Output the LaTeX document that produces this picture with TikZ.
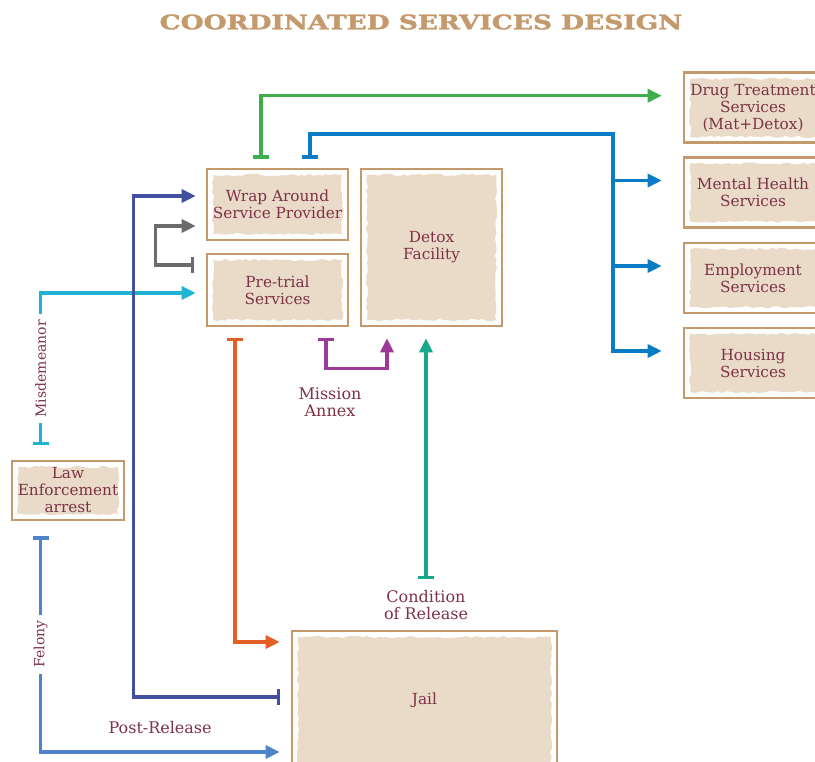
\documentclass[tikz,border=0pt]{standalone}
\usepackage{fontspec}
\setmainfont{DejaVu Serif}
\newfontfamily\titlefont{DejaVu Serif}[BoldFeatures={FakeBold=1.6}]
\usetikzlibrary{arrows.meta,decorations.pathmorphing}

\definecolor{frame}{HTML}{C49A6C}
\definecolor{paper}{HTML}{EADBC9}
\definecolor{ink}{HTML}{7D3246}
\definecolor{lgreen}{HTML}{3DAE49}
\definecolor{lblue}{HTML}{0A7CC6}
\definecolor{lnavy}{HTML}{4350A0}
\definecolor{lgray}{HTML}{6B6B6B}
\definecolor{lcyan}{HTML}{1FB3D4}
\definecolor{lorange}{HTML}{E35F26}
\definecolor{lpurple}{HTML}{9C3A97}
\definecolor{lteal}{HTML}{17A98A}
\definecolor{lsky}{HTML}{4F84CA}

\tikzset{
  svc/.style={draw=frame, line width=2.6pt, align=center, text=ink,
    font=\fontsize{15.3}{17}\selectfont, inner sep=0pt,
    path picture={\fill[paper,decorate,decoration={random steps,segment length=4pt,amplitude=1.2pt}]
      ([shift={(6pt,-6pt)}]path picture bounding box.north west) rectangle
      ([shift={(-6pt,6pt)}]path picture bounding box.south east);}},
  lbl/.style={text=ink, font=\fontsize{16}{17}\selectfont, align=center},
  side/.style={lbl, font=\fontsize{14}{17}\selectfont, rotate=90, fill=white, inner xsep=6pt},
  arr/.style={line width=3.2pt, -{Triangle[length=14pt,width=13pt]}},
  link/.style={arr, {Bar[width=16pt]}-{Triangle[length=14pt,width=13pt]}},
}

\begin{document}
\begin{tikzpicture}[x=1pt,y=-1pt]
    \useasboundingbox[fill=white] (0,0) rectangle (815,762);

    \node[text=frame, font=\titlefont\fontsize{20}{20}\bfseries\selectfont] (title) at (421,22)
        {\scalebox{1.32}[1]{COORDINATED SERVICES DESIGN}};

    % boxes
    \node[svc, minimum width=141pt, minimum height=71pt] (wrap) at (277.5,204.5) {Wrap Around\\Service Provider};
    \node[svc, minimum width=141pt, minimum height=72pt] (pretrial) at (277.5,290) {Pre-trial\\Services};
    \node[svc, minimum width=141pt, minimum height=157pt] (detox) at (431.5,247.5) {Detox\\Facility};
    \node[svc, minimum width=112pt, minimum height=59pt] (law) at (68,490.5) {Law\\Enforcement\\arrest};
    \node[svc, minimum width=265pt, minimum height=139pt] (jail) at (424.5,700.5) {Jail};

    \foreach \n/\y/\t in {drug/107.7/{Drug Treatment\\Services\\(Mat+Detox)},
                          mental/192.5/{Mental Health\\Services},
                          employ/278/{Employment\\Services},
                          housing/363/{Housing\\Services}}{
        \node[svc, minimum width=138pt, minimum height=70pt] (\n) at (753,\y) {\t};
        \coordinate (\n-in) at ([xshift=-21pt,yshift=12pt]\n.west);
    }

    % to the services on the right
    \draw[link, lgreen] ([xshift=-16.5pt,yshift=9pt]wrap.north) |- (drug-in);
    \coordinate (hub) at (613,134);
    \draw[link, lblue] ([xshift=32.5pt,yshift=9pt]wrap.north) |- (hub) |- (housing-in);
    \foreach \n in {mental,employ}
        \draw[arr, lblue] (hub |- \n-in) -- (\n-in);

    % arrest
    \draw[link, lcyan] ([xshift=-27.3pt,yshift=15pt]law.north)
        |- node[side, pos=0.25] {Misdemeanor}
        ([xshift=-10pt,yshift=-3pt]pretrial.west);
    \draw[link, lsky] ([xshift=-27.5pt,yshift=-15pt]law.south)
        |- node[side, pos=0.25] {Felony}
           node[lbl, pos=0.75, above=13pt] {Post-Release}
        ([xshift=-11pt,yshift=-51.5pt]jail.west);

    % jail and back
    \draw[link, lnavy] ([xshift=-11pt,yshift=3.5pt]jail.west)
        -| ([xshift=-72pt,yshift=8.5pt]wrap.west) -- ([xshift=-10pt,yshift=8.5pt]wrap.west);
    \draw[link, lgray] ([xshift=-12pt,yshift=25pt]pretrial.west) -- ++(-38pt,0)
        |- ([xshift=-10pt,yshift=-21.5pt]wrap.west);
    \draw[link, lorange] ([xshift=-42.5pt,yshift=-11pt]pretrial.south)
        |- ([xshift=-11pt,yshift=58.5pt]jail.west);

    % detox
    \draw[link, lpurple] ([xshift=48.5pt,yshift=-11pt]pretrial.south) -- ++(0,-30pt)
        node[lbl, below=14pt, xshift=4pt] {Mission\\Annex}
        -| ([xshift=-44.5pt,yshift=-11pt]detox.south);
    \draw[link, lteal] ([xshift=1.5pt,yshift=51pt]jail.north)
        node[lbl, below=7pt] {Condition\\of Release}
        -- ([xshift=-5.5pt,yshift=-11pt]detox.south);
\end{tikzpicture}
\end{document}
